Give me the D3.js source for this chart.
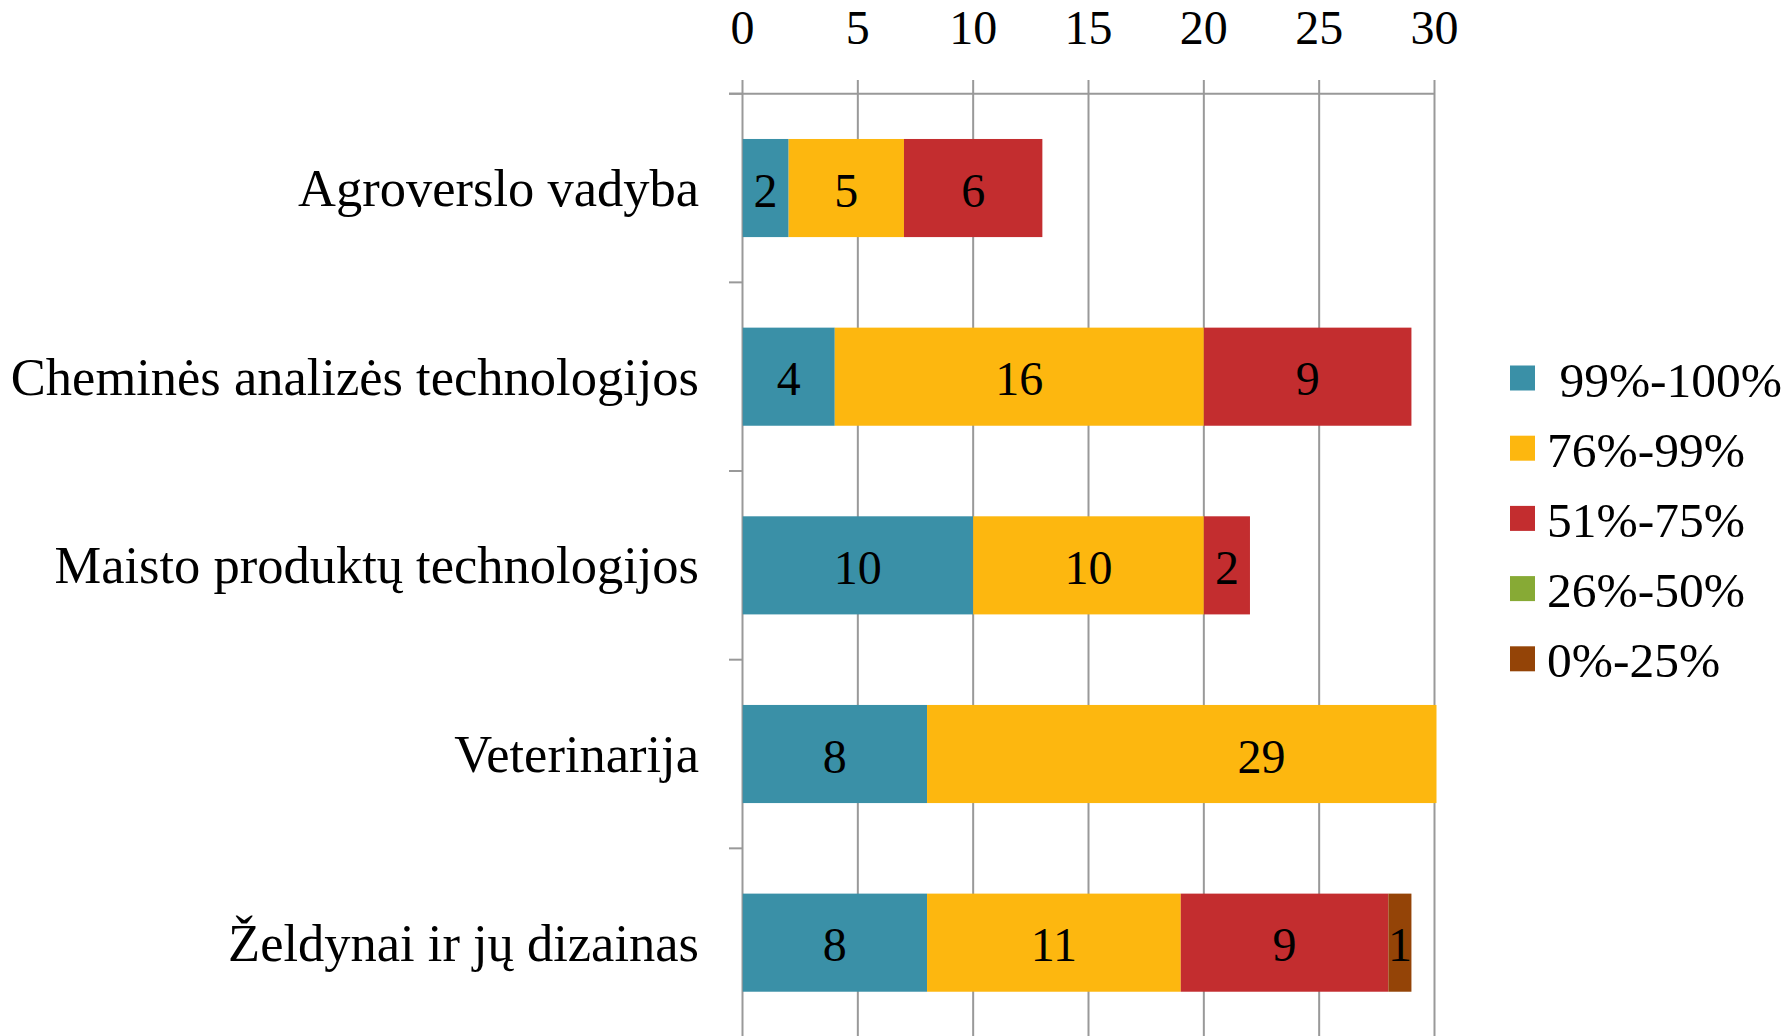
<!DOCTYPE html>
<html>
<head>
<meta charset="utf-8">
<script src="https://cdn.jsdelivr.net/npm/d3@7"></script>
<style>
  body { margin: 0; background: #fff; }
  svg text { font-family: "Liberation Serif", serif; fill: #000; }
</style>
</head>
<body>
<div id="vis-container"></div>
<script>
// chart data
var categories = ["Agroverslo vadyba", "Cheminės analizės technologijos", "Maisto produktų technologijos", "Veterinarija", "Želdynai ir jų dizainas"];
var seriesNames = [" 99%-100%", "76%-99%", "51%-75%", "26%-50%", "0%-25%"];
var seriesColors = ["#3a90a7", "#fdb70f", "#c32d2f", "#87aa35", "#944407"];
var s99_100 = [2, 4, 10, 8, 8];
var s76_99 = [5, 16, 10, 29, 11];
var s51_75 = [6, 9, 2, 0, 9];
var s26_50 = [0, 0, 0, 0, 0];
var s0_25 = [0, 0, 0, 0, 1];
var tickValues = [0, 5, 10, 15, 20, 25, 30];

var width = 1791;
var height = 1036;

var svg = d3.select("#vis-container")
	.append("svg")
	.attr("width", width)
	.attr("height", height);

var x = d3.scaleLinear().domain([0, 30]).range([742.5, 1434.5]);
var y = d3.scaleBand().domain(categories).range([93.7, 1037]).paddingInner(0.48).paddingOuter(0.24);

// build stacked rows
var series = [s99_100, s76_99, s51_75, s26_50, s0_25];
var rows = categories.map(function(c, i) {
	var o = { cat: c };
	seriesNames.forEach(function(n, j) { o["k" + j] = series[j][i]; });
	return o;
});
var keys = seriesNames.map(function(n, j) { return "k" + j; });
var stacked = d3.stack().keys(keys)(rows);

// gridlines
svg.append("g").selectAll("line")
	.data(tickValues)
	.enter()
	.append("line")
	.attr("x1", function(d) { return x(d); })
	.attr("x2", function(d) { return x(d); })
	.attr("y1", 80)
	.attr("y2", height)
	.attr("stroke", "#999")
	.attr("stroke-width", 2);

// top axis line
svg.append("line")
	.attr("x1", 729).attr("x2", x(30))
	.attr("y1", 93.7).attr("y2", 93.7)
	.attr("stroke", "#999").attr("stroke-width", 2);

// left category tick marks
svg.append("g").selectAll("line")
	.data(d3.range(categories.length + 1))
	.enter()
	.append("line")
	.attr("x1", 729).attr("x2", x(0))
	.attr("y1", function(i) { return 93.7 + i * y.step(); })
	.attr("y2", function(i) { return 93.7 + i * y.step(); })
	.attr("stroke", "#999").attr("stroke-width", 2);

// tick labels
svg.append("g").selectAll("text")
	.data(tickValues)
	.enter()
	.append("text")
	.attr("x", function(d) { return x(d); })
	.attr("y", 27)
	.attr("text-anchor", "middle")
	.attr("dominant-baseline", "central")
	.style("font-size", "48px")
	.text(function(d) { return d; });

// bars, clipped to the axis max
svg.append("clipPath").attr("id", "plotclip")
	.append("rect")
	.attr("x", x(0)).attr("y", 0)
	.attr("width", x(30) - x(0) + 2).attr("height", height);

var layers = svg.append("g").attr("clip-path", "url(#plotclip)")
	.selectAll("g")
	.data(stacked)
	.enter()
	.append("g")
	.attr("fill", function(d, i) { return seriesColors[i]; });

layers.selectAll("rect")
	.data(function(d) { return d; })
	.enter()
	.append("rect")
	.attr("x", function(d) { return x(d[0]); })
	.attr("y", function(d) { return y(d.data.cat); })
	.attr("width", function(d) { return x(d[1]) - x(d[0]); })
	.attr("height", y.bandwidth());

// value labels
var labels = [];
stacked.forEach(function(layer) {
	layer.forEach(function(d) {
		var v = d[1] - d[0];
		if (v > 0) labels.push({ v: v, mid: (d[0] + d[1]) / 2, cat: d.data.cat });
	});
});
svg.append("g").selectAll("text")
	.data(labels)
	.enter()
	.append("text")
	.attr("x", function(d) { return x(d.mid); })
	.attr("y", function(d) { return y(d.cat) + y.bandwidth() / 2 + 2; })
	.attr("text-anchor", "middle")
	.attr("dominant-baseline", "central")
	.style("font-size", "48px")
	.text(function(d) { return d.v; });

// category labels
svg.append("g").selectAll("text")
	.data(categories)
	.enter()
	.append("text")
	.attr("x", 699)
	.attr("y", function(d) { return y(d) + y.bandwidth() / 2; })
	.attr("text-anchor", "end")
	.attr("dominant-baseline", "central")
	.style("font-size", "52.5px")
	.text(function(d) { return d; });

// legend
var legend = svg.append("g").selectAll("g")
	.data(seriesNames)
	.enter()
	.append("g")
	.attr("transform", function(d, i) { return "translate(1510," + (378 + i * 70.2) + ")"; });

legend.append("rect")
	.attr("x", 0).attr("y", -12.5)
	.attr("width", 25).attr("height", 25)
	.attr("fill", function(d, i) { return seriesColors[i]; });

legend.append("text")
	.attr("x", 37)
	.attr("y", 2)
	.attr("dominant-baseline", "central")
	.attr("xml:space", "preserve")
	.style("white-space", "pre")
	.style("font-size", "49.5px")
	.text(function(d) { return d; });
</script>
</body>
</html>
